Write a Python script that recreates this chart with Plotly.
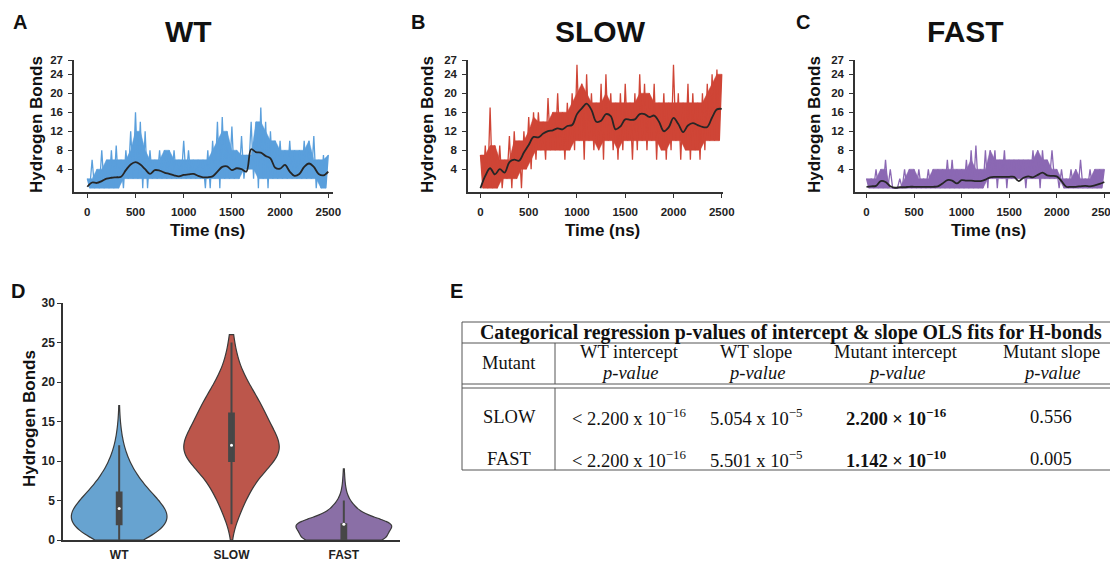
import numpy as np
import plotly.graph_objects as go

W, H = 1118, 561
OFF = 8  # page body margin around the figure

# sample times (ns)
fine_time = list(range(0, 2501, 25))
smooth_time = list(range(0, 2501, 50))

wt_hbonds = [2, 0, 6, 0, 4, 0, 8, 0, 6, 0, 8, 0, 9, 0, 6, 0,
             8, 2, 12, 2, 16, 2, 14, 0, 12, 0, 8, 2,
             6, 2, 8, 2, 8, 2, 8, 2, 8, 2, 6, 2, 10, 2, 8, 2, 6, 2, 6, 2, 6, 0, 8, 0,
             10, 2, 14, 0, 15, 2, 12, 2, 13, 2, 8, 2, 11, 2, 7, 4,
             14, 2, 14, 0, 17, 2, 14, 0, 12, 2,
             10, 2, 10, 2, 8, 2, 10, 2, 8, 2, 8, 2, 10, 2, 10, 2, 11, 0,
             6, 0, 7, 0, 7]
slow_hbonds = [7, 0, 9, 0, 17, 0, 9, 0, 9, 0, 6, 2, 11, 0, 12, 2, 10, 0, 12, 4, 15, 4,
               16, 6, 16, 8, 14, 6, 19, 8, 16, 8, 20, 8, 16, 6, 18, 8, 20, 8,
               26, 10, 22, 6, 24, 10, 20, 8, 18, 8,
               22, 6, 24, 10, 20, 8, 18, 6, 20, 8, 22, 10, 18, 6, 20, 8, 24, 10,
               22, 8, 20, 10, 22, 6, 18, 8, 20, 6, 18, 8, 26, 10, 20, 6, 18, 8,
               22, 6, 20, 8, 18, 6, 20, 8, 22, 10, 24, 10, 25, 10, 24]
fast_hbonds = [2, 0, 2, 0, 4, 0, 4, 0, 6, 0, 4, 0, 0, 0, 2, 0, 4, 0, 4, 0, 4, 0, 4, 0,
               2, 0, 4, 0, 4, 0, 4, 0, 4, 0, 6, 0, 6, 0, 4, 0, 4, 0, 6, 0, 8, 0, 9, 0,
               4, 0, 8, 0, 8, 2, 8, 0, 6, 2, 8, 0, 6, 2, 6, 2, 6, 2, 6, 0, 6, 2, 8, 2,
               8, 0, 8, 2, 6, 2, 8, 2, 4, 0, 4, 0, 2, 0, 4, 0, 4, 0, 6, 0, 2, 0, 4, 0,
               4, 0, 4, 0, 4]

# smoothed trend (every 50 ns)
wt_smooth = [0.3, 1.2, 1.1, 1.5, 2.0, 2.2, 2.3, 2.4, 3.8, 5.0, 5.5, 5.0, 4.0, 3.0, 3.8,
             3.7, 3.3, 3.0, 2.7, 2.5, 2.8, 2.9, 3.0, 2.6, 2.3, 2.3, 2.5, 3.5, 4.5, 4.6,
             3.8, 4.2, 4.0, 3.5, 8.2, 7.6, 7.5, 6.8, 6.3, 4.3, 4.1, 4.9, 3.5, 2.6, 3.0,
             4.5, 5.2, 4.5, 3.0, 2.7, 3.5]
slow_smooth = [0.0, 2.6, 4.2, 2.9, 4.0, 3.3, 5.5, 6.0, 5.8, 7.5, 9.1, 10.8, 10.7, 11.5,
               12.0, 12.2, 12.6, 12.4, 13.1, 13.3, 15.6, 16.8, 17.8, 16.5, 14.0, 14.2,
               15.6, 15.2, 12.4, 13.0, 14.5, 14.4, 14.5, 15.6, 15.6, 15.0, 15.3, 14.0,
               12.0, 12.8, 14.8, 13.5, 11.8, 13.2, 13.7, 13.3, 12.9, 12.9, 14.9, 16.6, 16.7]
fast_smooth = [0.3, 0.4, 0.5, 1.5, 1.3, 0.4, 0.1, 0.2, 0.2, 0.3, 0.3, 0.3, 0.3, 0.3, 0.3,
               0.4, 1.0, 1.7, 1.6, 1.0, 1.7, 1.6, 1.6, 1.5, 1.5, 1.8, 2.3, 2.4, 2.4, 2.4,
               2.4, 2.4, 1.5, 2.2, 2.5, 2.3, 2.8, 3.3, 2.7, 2.6, 2.5, 1.5, 0.3, 0.3, 0.3,
               0.4, 0.5, 0.4, 0.6, 0.9, 1.3]

# distribution of H-bond counts for the violins (D)
hbond_levels = list(range(27))
wt_counts = [60, 80, 100, 105, 95, 80, 65, 50, 38, 28, 20, 14, 9, 6, 4, 2, 1, 1]
slow_counts = [0, 0, 6, 9, 13, 17, 22, 27, 33, 38, 60, 65, 68, 55, 50, 46, 42, 38, 32,
               26, 20, 14, 10, 7, 5, 4, 3]
fast_counts = [130, 70, 150, 40, 30, 12, 6, 3, 2, 1]

# table E
table_title = "Categorical regression p-values of intercept & slope OLS fits for H-bonds"
table_header = ["Mutant", "WT intercept", "WT slope", "Mutant intercept", "Mutant slope"]
table_rows = [
    ["SLOW", "< 2.200 x 10<sup>−16</sup>", "5.054 x 10<sup>−5</sup>",
     "<b>2.200 × 10<sup>−16</sup></b>", "0.556"],
    ["FAST", "< 2.200 x 10<sup>−16</sup>", "5.501 x 10<sup>−5</sup>",
     "<b>1.142 × 10<sup>−10</sup></b>", "0.005"],
]

SANS = "Liberation Sans"
SERIF = "Liberation Serif"
AX = "#333333"


def px(x):
    return (x - OFF) / W


def py(y):
    return 1 - (y - OFF) / H


fig = go.Figure()

panels = [
    ("WT", wt_hbonds, wt_smooth, "#5a9fdc", "x", "y"),
    ("SLOW", slow_hbonds, slow_smooth, "#cf4536", "x2", "y2"),
    ("FAST", fast_hbonds, fast_smooth, "#8b68b3", "x3", "y3"),
]
for name, raw, smooth, color, xa, ya in panels:
    peaks, troughs = raw[0::2], raw[1::2]
    # dense core of the trace: plateau between neighbouring peaks and troughs
    core_top = [min(peaks[max(i - 1, 0):i + 2]) for i in range(len(peaks))]
    core_bot = [max(troughs[max(i - 1, 0):i + 2]) for i in range(len(troughs))]
    fig.add_trace(go.Scatter(x=fine_time[0::2], y=core_top, mode="lines",
                             line=dict(color=color, width=0.5),
                             xaxis=xa, yaxis=ya, showlegend=False, hoverinfo="skip"))
    fig.add_trace(go.Scatter(x=fine_time[1::2], y=core_bot, mode="lines",
                             line=dict(color=color, width=0.5), fill="tonexty", fillcolor=color,
                             xaxis=xa, yaxis=ya, showlegend=False, hoverinfo="skip"))
    fig.add_trace(go.Scatter(x=fine_time, y=raw, mode="lines",
                             line=dict(color=color, width=1.3),
                             xaxis=xa, yaxis=ya, showlegend=False, hoverinfo="skip"))
    fig.add_trace(go.Scatter(x=smooth_time, y=smooth, mode="lines",
                             line=dict(color="#262626", width=1.8, shape="spline"),
                             xaxis=xa, yaxis=ya, showlegend=False, hoverinfo="skip"))

violins = [
    ("WT", wt_counts, "#67a3d0", 1.2),
    ("SLOW", slow_counts, "#bc564b", 1.7),
    ("FAST", fast_counts, "#8a6fa6", 0.8),
]
for name, counts, color, bw in violins:
    values = np.repeat(hbond_levels[:len(counts)], counts)
    fig.add_trace(go.Violin(
        x=[name] * len(values), y=values, xaxis="x4", yaxis="y4",
        fillcolor=color, opacity=1, line=dict(color="#3a3a3a", width=1.2),
        points=False, spanmode="manual", span=[0, len(counts) - 1],
        bandwidth=bw, width=0.85, scalemode="width",
        box=dict(visible=True, width=0.05, fillcolor="#474747",
                 line=dict(color="#474747", width=2)),
        showlegend=False, hoverinfo="skip"))
    fig.add_trace(go.Scatter(x=[name], y=[np.median(values)], mode="markers",
                             marker=dict(color="white", size=3),
                             xaxis="x4", yaxis="y4", showlegend=False, hoverinfo="skip"))


def axis(**kw):
    base = dict(showline=True, linecolor=AX, linewidth=1.5, ticks="outside", ticklen=4,
                tickwidth=1.2, tickcolor=AX, showgrid=False, zeroline=False, automargin=False,
                tickfont=dict(family=SANS, size=11.5, color="#222", weight="bold"))
    base.update(kw)
    return base


ts_y_dom = [py(192), py(60)]
time_ticks = [0, 500, 1000, 1500, 2000, 2500]
hb_ticks = [4, 8, 12, 16, 20, 24, 27]
layout_axes = {}
for i, (x0, x1, r0, r1) in enumerate([(74, 333, -138, 2549), (468, 723, -129, 2513),
                                       (855, 1130, -121, 2728)]):
    s = "" if i == 0 else str(i + 1)
    layout_axes["xaxis" + s] = axis(domain=[px(x0), min(px(x1), 1)], range=[r0, r1],
                                    tickvals=time_ticks, anchor="y" + s, ticklabelstandoff=4)
    layout_axes["yaxis" + s] = axis(domain=ts_y_dom, range=[-0.8, 27], tickvals=hb_ticks,
                                    anchor="x" + s, ticklabelstandoff=3)

layout_axes["xaxis4"] = axis(domain=[px(63), px(400)], range=[-0.5, 2.5], anchor="y4",
                             type="category", categoryorder="array",
                             categoryarray=["WT", "SLOW", "FAST"], ticks="",
                             ticklabelstandoff=3,
                             tickfont=dict(family=SANS, size=12, color="#222", weight="bold"))
layout_axes["yaxis4"] = axis(domain=[py(540), py(303)], range=[0, 30],
                             tickvals=[0, 5, 10, 15, 20, 25, 30], anchor="x4",
                             ticklabelstandoff=0,
                             tickfont=dict(family=SANS, size=12, color="#222", weight="bold"))

annotations = []


def label(text, x, y, size, angle=0):
    return dict(text="<b>%s</b>" % text, x=px(x), y=py(y), xref="paper", yref="paper",
                showarrow=False, xanchor="center", yanchor="middle", textangle=angle,
                font=dict(family=SANS, size=size, color="#111"))


for txt, x, y, size in [("A", 20, 22, 20), ("B", 418, 22, 20), ("C", 803, 22, 20),
                        ("D", 18, 291, 20), ("E", 456, 291, 20),
                        ("WT", 188, 32, 30), ("SLOW", 600, 32, 30), ("FAST", 965, 32, 30)]:
    annotations.append(label(txt, x, y, size))

# axis titles
for x in [207, 602, 988]:
    annotations.append(label("Time (ns)", x, 230, 17))
for x in [37, 428, 815]:
    annotations.append(label("Hydrogen Bonds", x, 125, 17, -90))
annotations.append(label("Hydrogen Bonds", 29, 419, 17, -90))

# table layout
tab_left, tab_right = 462, 1130
col_div = 555
col_x = [509, 629, 756, 896, 1051]
serif = dict(family=SERIF, size=18.5, color="#111")


def cell(text, x, y, font=serif):
    return dict(text=text, x=px(x), y=py(y), xref="paper", yref="paper", showarrow=False,
                xanchor="center", yanchor="middle", font=font)


annotations.append(cell("<b>%s</b>" % table_title, 791, 332,
                        dict(family=SERIF, size=19.9, color="#111")))
for j, h in enumerate(table_header):
    if j == 0:
        annotations.append(cell(h, col_x[j], 363))
    else:
        annotations.append(cell(h, col_x[j], 352))
        annotations.append(cell("<i>p-value</i>", col_x[j], 373))
for r, row in enumerate(table_rows):
    for j, txt in enumerate(row):
        annotations.append(cell(txt, col_x[j], 417 + 42 * r))

shapes = []
for yy in [322, 343, 384, 388, 470]:
    shapes.append(dict(type="line", xref="paper", yref="paper", x0=px(tab_left),
                       x1=px(tab_right), y0=py(yy), y1=py(yy),
                       line=dict(color="#555", width=1)))
shapes.append(dict(type="line", xref="paper", yref="paper", x0=px(tab_left), x1=px(tab_left),
                   y0=py(322), y1=py(470), line=dict(color="#555", width=1)))
for y0, y1 in [(343, 384), (388, 470)]:
    shapes.append(dict(type="line", xref="paper", yref="paper", x0=px(col_div),
                       x1=px(col_div), y0=py(y0), y1=py(y1), line=dict(color="#555", width=1)))

fig.update_layout(
    width=W, height=H, margin=dict(l=0, r=0, t=0, b=0),
    paper_bgcolor="white", plot_bgcolor="white",
    violinmode="overlay", annotations=annotations, shapes=shapes,
    **layout_axes,
)

fig.write_html("out.html")
